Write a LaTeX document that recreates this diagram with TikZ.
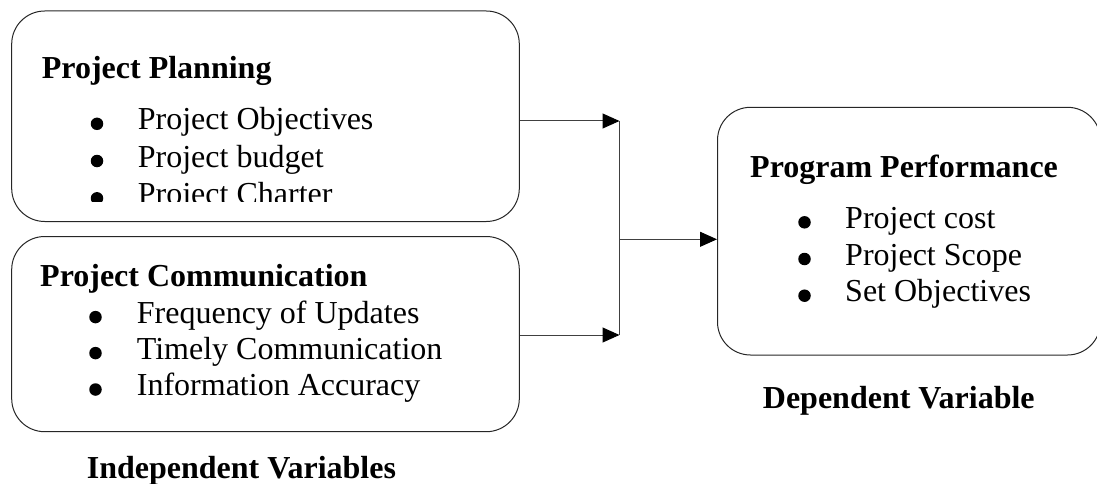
\documentclass[tikz,border=0pt]{standalone}
\usepackage{fontspec}
\setmainfont{Liberation Serif}
\usetikzlibrary{arrows.meta}
\tikzset{
  varbox/.style={draw=black!85, line width=1pt, rounded corners=33pt, inner sep=0pt},
  title/.style={anchor=base west, inner sep=0pt, font=\fontsize{32}{36}\selectfont\bfseries},
  item/.style={anchor=base west, inner sep=0pt, font=\fontsize{32}{36}\selectfont},
  dot/.style={circle, fill=black, inner sep=0pt, minimum size=12.5pt},
  conn/.style={draw=black!75, line width=1pt},
  arr/.style={conn, -{Triangle[length=17pt,width=15pt,color=black,fill=black]}}
}
\begin{document}
\begin{tikzpicture}[x=1pt,y=-1pt]
\useasboundingbox (0,0) rectangle (1097,484);
% boxes
\node[varbox, minimum width=507.6pt, minimum height=210.5pt] (plan) at (265.5,116.25) {};
\node[varbox, minimum width=507.6pt, minimum height=195.2pt] (comm) at (265.5,334.1) {};
\node[varbox, minimum width=383pt, minimum height=247.7pt] (perf) at (909,231.15) {};
% box 1 text
\node[title] (t1) at (41.7,79) {Project Planning};
\node[dot] (b11) at (97,123.8) {};
\node[item] (i11) at (137.7,130) {Project Objectives};
\node[dot] (b12) at (97,161) {};
\node[item] (i12) at (137.7,167.2) {Project budget};
\begin{scope}
\clip (0,0) rectangle (1097,201.5);
\node[dot] (b13) at (97,198.3) {};
\node[item] (i13) at (137.7,204.5) {Project Charter};
\end{scope}
% box 2 text
\node[title] (t2) at (40,286.7) {Project Communication};
\node[dot] (b21) at (95.5,317.1) {};
\node[item] (i21) at (136.7,323.3) {Frequency of Updates};
\node[dot] (b22) at (95.5,353.1) {};
\node[item] (i22) at (136.7,359.3) {Timely Communication};
\node[dot] (b23) at (95.5,389.5) {};
\node[item] (i23) at (136.7,395.7) {Information Accuracy};
\node[title] (l1) at (86.7,478.3) {Independent Variables};
% box 3 text
\node[title] (t3) at (750,177) {Program Performance};
\node[dot] (b31) at (804.5,222.3) {};
\node[item] (i31) at (845,228.5) {Project cost};
\node[dot] (b32) at (804.5,259) {};
\node[item] (i32) at (845,265.2) {Project Scope};
\node[dot] (b33) at (804.5,295.7) {};
\node[item] (i33) at (845,301.9) {Set Objectives};
\node[title] (l2) at (762.7,408.3) {Dependent Variable};
% connectors
\coordinate (j1) at (619.5,121);
\coordinate (j2) at (619.5,335);
\coordinate (jm) at (619.5,239.3);
\draw[arr] (j1 -| plan.east) -- (j1);
\draw[arr] (j2 -| comm.east) -- (j2);
\draw[conn] (j1) -- (j2);
\draw[arr] (jm) -- (jm -| perf.west);
\end{tikzpicture}
\end{document}
